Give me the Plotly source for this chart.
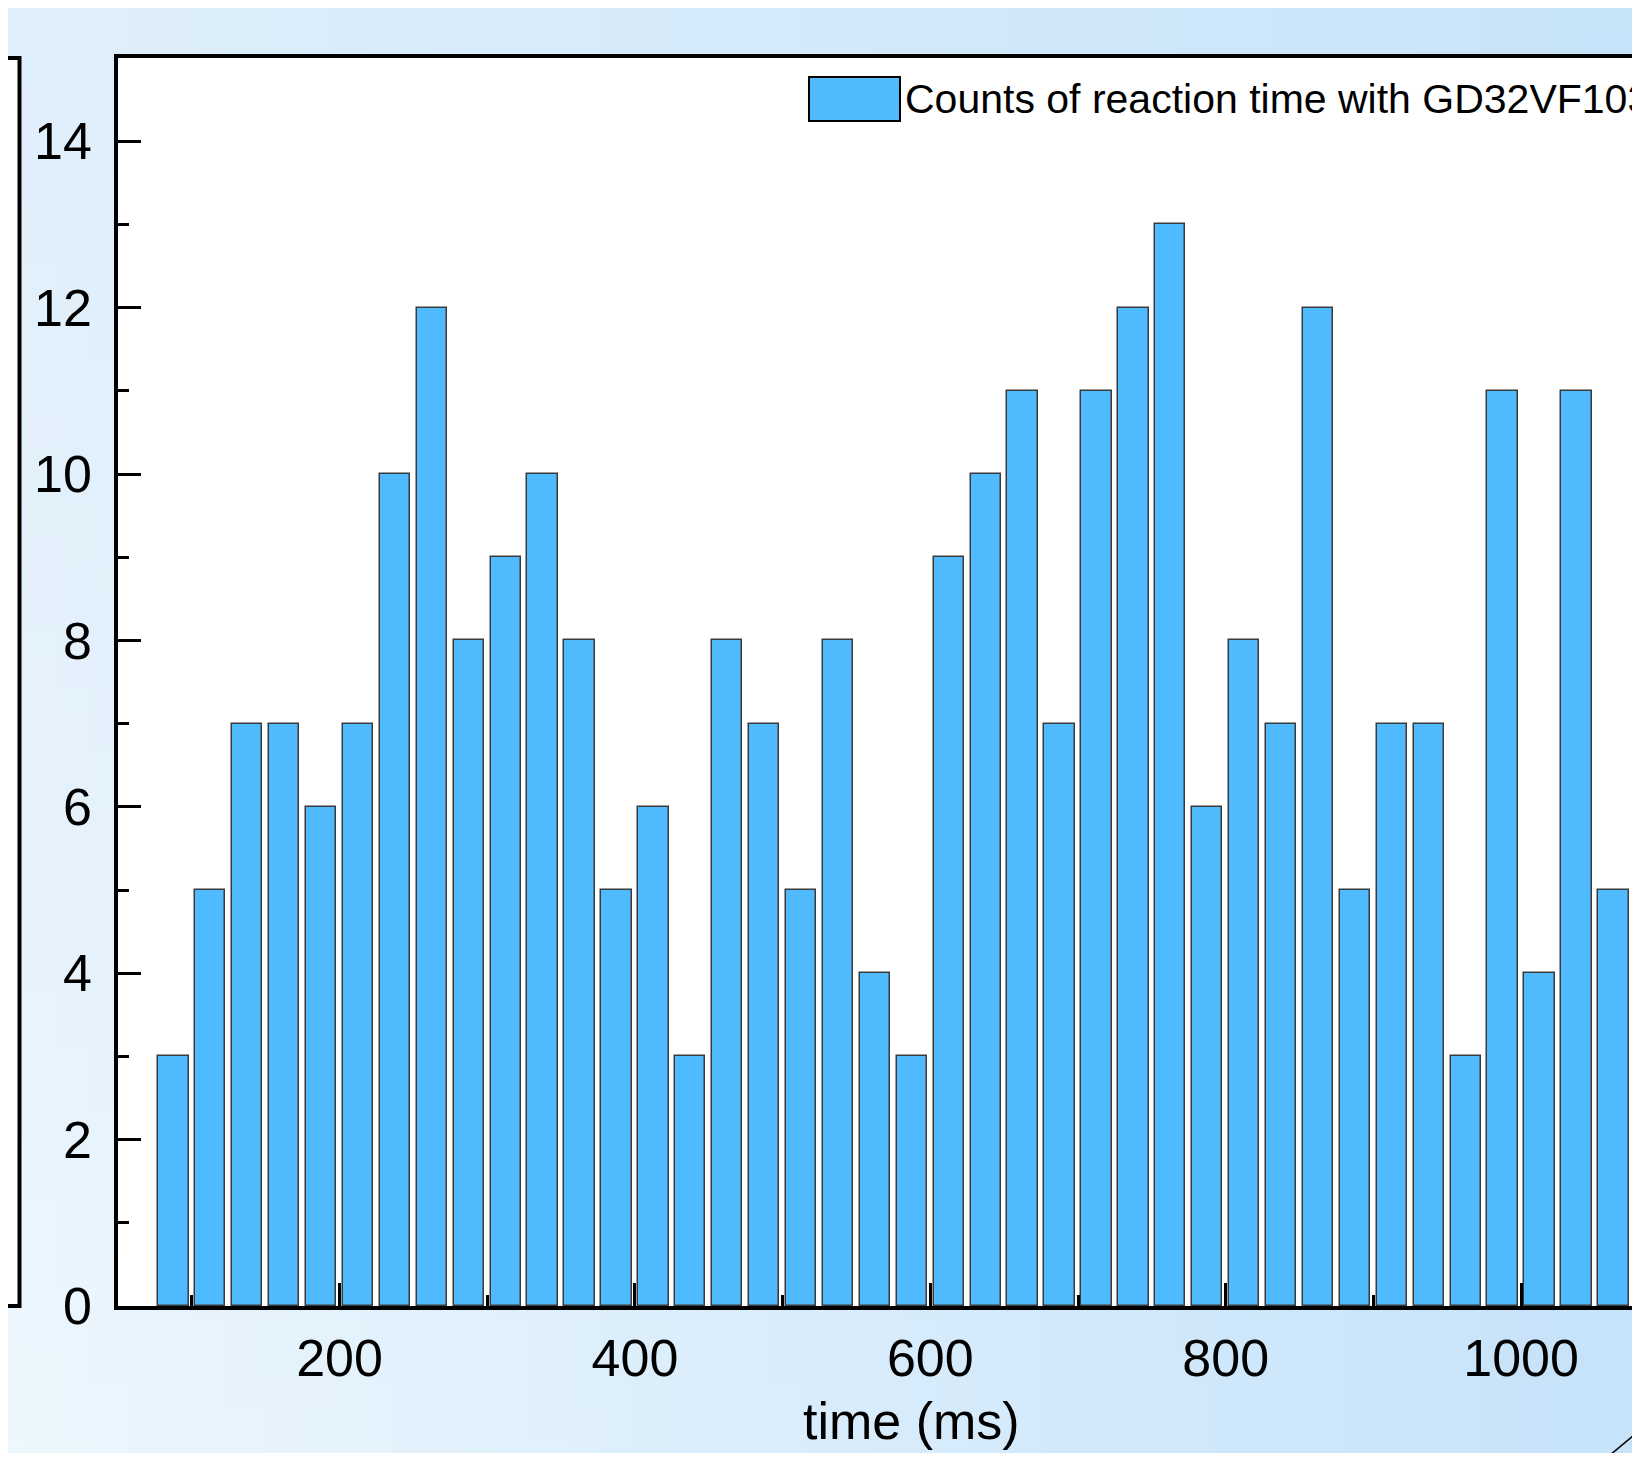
import zlib, struct, base64
import numpy as np
import plotly.graph_objects as go

# ---------------- data ----------------
bin_centers = [87.5, 112.5, 137.5, 162.5, 187.5, 212.5, 237.5, 262.5, 287.5, 312.5,
               337.5, 362.5, 387.5, 412.5, 437.5, 462.5, 487.5, 512.5, 537.5, 562.5,
               587.5, 612.5, 637.5, 662.5, 687.5, 712.5, 737.5, 762.5, 787.5, 812.5,
               837.5, 862.5, 887.5, 912.5, 937.5, 962.5, 987.5, 1012.5, 1037.5, 1062.5]
counts = [3, 5, 7, 7, 6, 7, 10, 12, 8, 9,
          10, 8, 5, 6, 3, 8, 7, 5, 8, 4,
          3, 9, 10, 11, 7, 11, 12, 13, 6, 8,
          7, 12, 5, 7, 7, 3, 11, 4, 11, 5]
series_name = "Counts of reaction time with GD32VF103"
x_title = "time (ms)"
x_tickvals = [200, 400, 600, 800, 1000]
y_tickvals = [0, 2, 4, 6, 8, 10, 12, 14]

# ---------------- layout geometry (figure px) ----------------
W, H = 1624, 1445
L, T, R = 110, 50, 0
PLOT_BOTTOM = 1298
B = H - PLOT_BOTTOM
PW, PH = W - L - R, H - T - B
FONT = "Arial, Liberation Sans, sans-serif"
BAR = "#50BAFF"


def px2paper(x, y):
    return (x - L) / PW, 1 - (y - T) / PH


# ---------------- gradient background png ----------------
def gradient_png(w=48, h=48):
    tl = np.array([224, 239, 251.]); tr = np.array([200, 228, 249.])
    bl = np.array([237, 247, 254.]); br = np.array([199, 227, 249.])
    u = np.linspace(0, 1, w)[None, :, None]
    v = np.linspace(0, 1, h)[:, None, None]
    img = (1 - v) * ((1 - u) * tl + u * tr) + v * ((1 - u) * bl + u * br)
    img = np.clip(img, 0, 255).astype(np.uint8)
    raw = b"".join(b"\x00" + img[r].tobytes() for r in range(h))

    def chunk(t, d):
        return struct.pack(">I", len(d)) + t + d + struct.pack(">I", zlib.crc32(t + d) & 0xffffffff)
    png = (b"\x89PNG\r\n\x1a\n" + chunk(b"IHDR", struct.pack(">IIBBBBB", w, h, 8, 2, 0, 0, 0))
           + chunk(b"IDAT", zlib.compress(raw)) + chunk(b"IEND", b""))
    return "data:image/png;base64," + base64.b64encode(png).decode()


fig = go.Figure()
fig.add_trace(go.Bar(
    x=bin_centers, y=counts, width=20.5, name=series_name,
    marker=dict(color=BAR, line=dict(color="#3a3a3a", width=1.5)),
    showlegend=False,
))

axis_common = dict(
    showline=True, linecolor="black", linewidth=3.5,
    ticks="inside", ticklen=23, tickwidth=3, tickcolor="black",
    showgrid=False, zeroline=False,
    tickfont=dict(family=FONT, size=52, color="black"),
)

fig.update_xaxes(
    **axis_common, range=[50, 1075.1], tickvals=x_tickvals, mirror=True,
    minor=dict(ticks="inside", ticklen=11, tickwidth=3, tickcolor="black", dtick=100, tick0=0),
    ticklabelstandoff=4,
)
fig.update_yaxes(
    **axis_common, range=[0, 15], tickvals=y_tickvals, mirror=False,
    minor=dict(ticks="inside", ticklen=11, tickwidth=3, tickcolor="black", dtick=1, tick0=0),
    ticklabelstandoff=12,
)

shapes = []
# white plot background (above the gradient image)
shapes.append(dict(type="rect", xref="paper", yref="paper", x0=0, y0=0, x1=1, y1=1,
                   fillcolor="white", line=dict(width=0), layer="below"))
# manual legend sample
x0, y0 = px2paper(801, 69); x1, y1 = px2paper(892, 113)
shapes.append(dict(type="rect", xref="paper", yref="paper", x0=x0, y0=y0, x1=x1, y1=y1,
                   fillcolor=BAR, line=dict(color="black", width=2)))
# fragment of neighbouring panel on the left
x0, y0 = px2paper(-20, 50); x1, y1 = px2paper(11.5, 1298)
shapes.append(dict(type="rect", xref="paper", yref="paper", x0=x0, y0=y0, x1=x1, y1=y1,
                   fillcolor="white", line=dict(color="black", width=4), layer="below"))
# decorative diagonal line bottom right
x0, y0 = px2paper(1590, 1457); x1, y1 = px2paper(1690, 1374)
shapes.append(dict(type="line", xref="paper", yref="paper", x0=x0, y0=y0, x1=x1, y1=y1,
                   line=dict(color="black", width=1.5)))

lx, ly = px2paper(895, 91)
_, ty = px2paper(0, 1413)
fig.update_layout(
    width=W, height=H,
    margin=dict(l=L, r=R, t=T, b=B, autoexpand=False),
    paper_bgcolor="#d8eafa", plot_bgcolor="white",
    shapes=shapes,
    annotations=[
        dict(text=series_name, xref="paper", yref="paper", x=lx, y=ly,
             xanchor="left", yanchor="middle", showarrow=False,
             font=dict(family=FONT, size=41, color="black")),
        dict(text=x_title, xref="x", yref="paper", x=587, y=ty,
             xanchor="center", yanchor="middle", showarrow=False,
             font=dict(family=FONT, size=52, color="black")),
    ],
    images=[dict(source=gradient_png(), xref="paper", yref="paper",
                 x=-L / PW, y=1 + T / PH, sizex=W / PW, sizey=H / PH,
                 xanchor="left", yanchor="top", sizing="stretch", layer="below")],
    bargap=0,
)

fig.write_html("out.html")
